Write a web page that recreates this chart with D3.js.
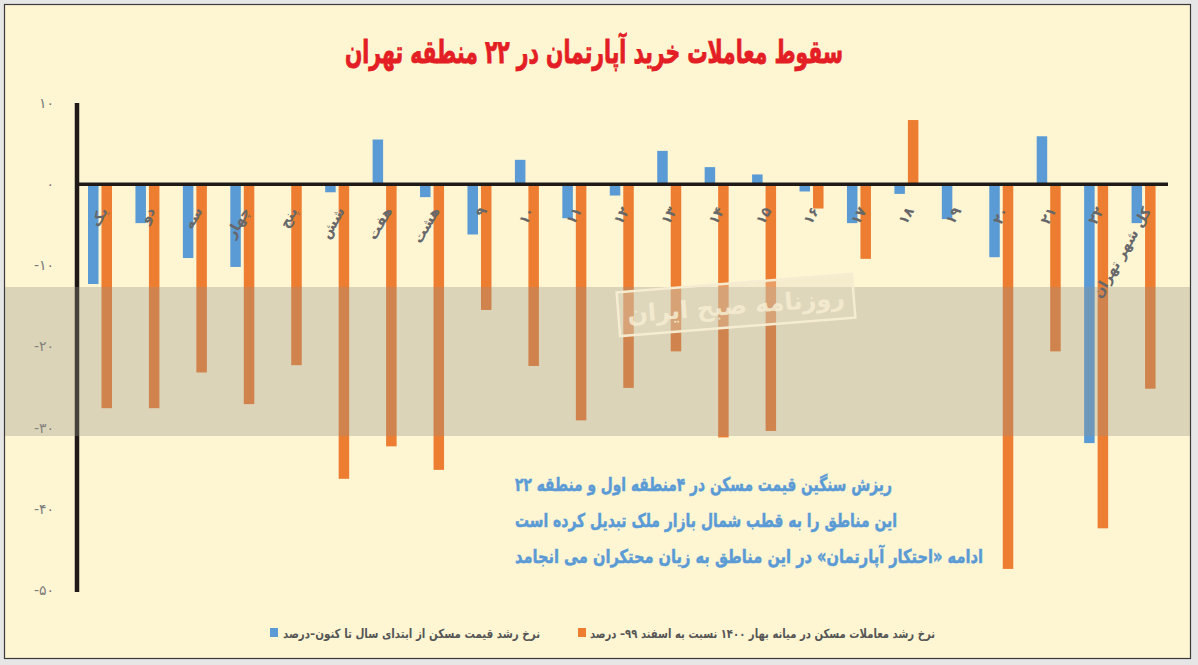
<!DOCTYPE html>
<html><head><meta charset="utf-8">
<script src="https://cdn.jsdelivr.net/npm/d3@7/dist/d3.min.js"></script>
<style>body{margin:0;background:#e6e6e6}svg{display:block}</style>
</head><body>
<svg id="c" width="1198" height="665"></svg>
<script>
const categories = ["یک","دو","سه","چهار","پنج","شش","هفت","هشت","۹","۱۰","۱۱","۱۲","۱۳","۱۴","۱۵","۱۶","۱۷","۱۸","۱۹","۲۰","۲۱","۲۲","کل شهر تهران"];
const priceGrowth = [-12.3,-4.8,-9.1,-10.2,0,-1.0,5.5,-1.6,-6.2,3.0,-4.2,-1.4,4.1,2.1,1.2,-0.9,-4.8,-1.2,-4.3,-9.0,5.9,-31.9,-4.8];
const transactionGrowth = [-27.6,-27.6,-23.2,-27.1,-22.3,-36.3,-32.3,-35.2,-15.5,-22.4,-29.1,-25.1,-20.6,-31.2,-30.4,-3.0,-9.2,7.9,0,-47.4,-20.6,-42.4,-25.2];
const yTicks = [10,0,-10,-20,-30,-40,-50];
const yTickLabels = ["۱۰","۰","-۱۰","-۲۰","-۳۰","-۴۰","-۵۰"];
const seriesNames = ["نرخ رشد قیمت مسکن از ابتدای سال تا کنون–درصد","نرخ رشد معاملات مسکن در میانه بهار ۱۴۰۰ نسبت به اسفند ۹۹– درصد"];
const title = "سقوط معاملات خرید آپارتمان در ۲۲ منطقه تهران";
const noteLines = ["ریزش سنگین قیمت مسکن در ۴منطقه اول و منطقه ۲۲","این مناطق را به قطب شمال بازار ملک تبدیل کرده است","ادامه «احتکار آپارتمان» در این مناطق به زیان محتکران می انجامد"];
const watermarkText = "روزنامه صبح ایران";

const FONT = "'DejaVu Sans', sans-serif";
const BLUE = "#5b9bd5", ORANGE = "#ed7d31";
const svg = d3.select("#c");

svg.append("rect").attr("x",4.5).attr("y",4.5).attr("width",1186).attr("height",654)
  .attr("fill","#fef5d3").attr("stroke","#3a3a3a").attr("stroke-width",1.2);

const x = d3.scaleBand().domain(categories).range([77,1168]).padding(0);
const sub = d3.scaleBand().domain(["p","t"]).range([11,35]).paddingInner(0.222);
const y = d3.scaleLinear().domain([-50,10]).range([590,103]);

// title
svg.append("text").attr("x",594).attr("y",63).attr("text-anchor","middle")
  .attr("direction","rtl").attr("font-family",FONT).attr("font-weight","bold")
  .attr("font-size",32).attr("fill","#e31e24").attr("stroke","#e31e24").attr("stroke-width",0.9)
  .attr("textLength",498).attr("lengthAdjust","spacingAndGlyphs").text(title);

// bars
const g = svg.append("g");
categories.forEach((c,i)=>{
  const gx = x(c);
  [["p",priceGrowth[i],BLUE],["t",transactionGrowth[i],ORANGE]].forEach(([k,v,col])=>{
    if(v===0) return;
    g.append("rect").attr("x",gx+sub(k)).attr("width",sub.bandwidth())
      .attr("y",y(Math.max(0,v))).attr("height",Math.abs(y(v)-y(0))).attr("fill",col);
  });
});

// axes
const yAxis = d3.axisLeft(y).tickValues(yTicks).tickSize(0).tickPadding(23)
  .tickFormat((d,i)=>yTickLabels[i]);
const ya = svg.append("g").attr("transform","translate(77,0)").call(yAxis);
ya.select(".domain").remove();
ya.selectAll("text").attr("font-family",FONT).attr("font-size",14).attr("fill","#7a7a7a").attr("direction","ltr");

svg.append("line").attr("x1",77).attr("x2",77).attr("y1",y(10)).attr("y2",y(-50)+2)
  .attr("stroke","#1f1a17").attr("stroke-width",4.5);

// watermark band
const wm = svg.append("g");
wm.append("rect").attr("x",5).attr("y",287).attr("width",1185).attr("height",149)
  .attr("fill","rgb(150,146,135)").attr("opacity",0.33);
const badge = wm.append("g").attr("transform","translate(736,305) rotate(-4.5)");
badge.append("rect").attr("x",-118).attr("y",-22).attr("width",236).attr("height",44)
  .attr("fill","#e4dcc3").attr("fill-opacity",0.35).attr("stroke","#f5ecd2").attr("stroke-width",2.5);
badge.append("text").attr("x",0).attr("y",9).attr("text-anchor","middle").attr("direction","rtl")
  .attr("font-family",FONT).attr("font-weight","bold").attr("font-size",24)
  .attr("fill","#f6edd2").attr("fill-opacity",0.85).text(watermarkText);

// zero line
svg.append("line").attr("x1",77).attr("x2",1168).attr("y1",y(0)).attr("y2",y(0))
  .attr("stroke","#1f1a17").attr("stroke-width",3.5);

// category labels
categories.forEach(c=>{
  svg.append("text").attr("transform",`translate(${x(c)+x.bandwidth()/2+3},${y(0)+24}) rotate(-60)`)
    .attr("direction","rtl").attr("text-anchor","start").attr("dominant-baseline","central")
    .attr("font-family",FONT).attr("font-weight","bold").attr("font-size",14)
    .attr("fill","#66676a").text(c);
});

// note
const noteWidths=[377,382,468];
noteLines.forEach((t,i)=>{
  svg.append("text").attr("x",515+noteWidths[i]).attr("y",[491,527,563][i])
    .attr("direction","rtl").attr("text-anchor","start")
    .attr("font-family",FONT).attr("font-weight","bold").attr("font-size",19)
    .attr("fill","#5b9bd5").attr("stroke","#5b9bd5").attr("stroke-width",0.5)
    .attr("textLength",noteWidths[i]).attr("lengthAdjust","spacingAndGlyphs").text(t);
});

// legend
const legend = [
  {name:seriesNames[0],col:BLUE,sq:270,tx:540,w:257},
  {name:seriesNames[1],col:ORANGE,sq:578,tx:935,w:345}
];
legend.forEach(l=>{
  svg.append("rect").attr("x",l.sq).attr("y",628).attr("width",8).attr("height",9).attr("fill",l.col);
  svg.append("text").attr("x",l.tx).attr("y",638).attr("direction","rtl").attr("text-anchor","start")
    .attr("font-family",FONT).attr("font-weight","bold").attr("font-size",12.5).attr("fill","#555")
    .attr("textLength",l.w).attr("lengthAdjust","spacingAndGlyphs").text(l.name);
});
</script>
</body></html>
